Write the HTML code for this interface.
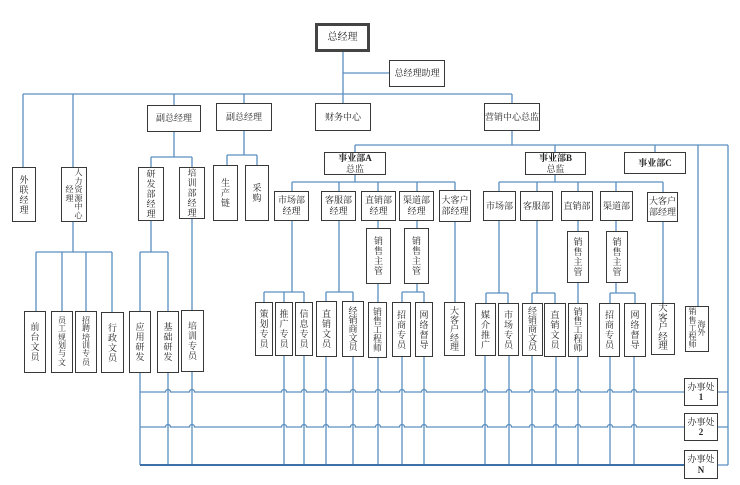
<!DOCTYPE html>
<html><head><meta charset="utf-8">
<style>
html,body{margin:0;padding:0;background:#fff;}
#c{position:relative;width:740px;height:485px;background:#fff;overflow:hidden;}
svg{position:absolute;left:0;top:0;}
.b{position:absolute;box-sizing:border-box;border:1.5px solid #383838;background:#fff;display:flex;align-items:center;justify-content:center;text-align:center;font-size:9px;line-height:11px;color:#222;font-family:"Liberation Serif","Noto Serif CJK SC",serif;white-space:nowrap;}
.v{line-height:10px;}
.v5{line-height:9px;}
.v6{line-height:8.4px;font-size:8px;}
.bd{font-weight:bold;}
.col{display:block;}
</style></head><body>
<div id="c">
<svg width="740" height="485" viewBox="0 0 740 485">
<g fill="none" stroke="#5b8fbf" stroke-width="1.3">
<path d="M343 52V94 M343 73H389 M23 94H512 M23 94V167 M73 94V167 M174 94V105 M244 94V103 M343 94V103 M512 94V103"/>
<path d="M512 131V145 M355 145H728 M355 145V152 M555 145V152 M655 145V152 M698 145V306 M728 145V465"/>
<path d="M174 132V157 M151 157H192 M151 157V167 M192 157V167"/>
<path d="M244 131V155 M227 155H257 M227 155V165 M257 155V165"/>
<path d="M73 222V252 M36 252H112 M36 252V311 M62 252V311 M86 252V311 M112 252V312"/>
<path d="M151 221V252 M140 252H168 M140 252V311 M168 252V311 M192 219V310"/>
<path d="M140 373V465 M168 373V465 M192 372V465"/>
<path d="M355 175V182 M292 182H455 M292 182V191 M339 182V191 M378 182V191 M417 182V191 M455 182V190"/>
<path d="M378 221V228 M417 221V228"/>
<path d="M292 221V292 M264 292H304 M264 292V302 M284 292V302 M304 292V302"/>
<path d="M339 221V292 M326 292H353 M326 292V301 M353 292V301"/>
<path d="M378 284V302 M417 284V292 M402 292H424 M402 292V302 M424 292V302 M455 222V302"/>
<path d="M284 356V465 M304 356V465 M326 357V465 M353 357V465 M378 358V465 M402 357V465 M424 357V465"/>
<path d="M555 175V182 M499 182H663 M499 182V191 M537 182V191 M578 182V191 M616 182V191 M663 182V192"/>
<path d="M578 221V231 M616 221V231"/>
<path d="M499 221V293 M486 293H508 M486 293V303 M508 293V303"/>
<path d="M537 221V293 M532 293H555 M532 293V303 M555 293V303"/>
<path d="M578 283V303 M616 283V293 M610 293H635 M610 293V303 M635 293V303 M663 222V303"/>
<path d="M485 356V465 M509 356V465 M532 356V465 M556 356V465 M578 357V465 M610 357V465 M634 357V465"/>
<path d="M140 392 L165.5 392 A2.5 2.5 0 0 1 170.5 392 L189.5 392 A2.5 2.5 0 0 1 194.5 392 L281.5 392 A2.5 2.5 0 0 1 286.5 392 L301.5 392 A2.5 2.5 0 0 1 306.5 392 L323.5 392 A2.5 2.5 0 0 1 328.5 392 L350.5 392 A2.5 2.5 0 0 1 355.5 392 L375.5 392 A2.5 2.5 0 0 1 380.5 392 L399.5 392 A2.5 2.5 0 0 1 404.5 392 L421.5 392 A2.5 2.5 0 0 1 426.5 392 L482.5 392 A2.5 2.5 0 0 1 487.5 392 L506.5 392 A2.5 2.5 0 0 1 511.5 392 L529.5 392 A2.5 2.5 0 0 1 534.5 392 L553.5 392 A2.5 2.5 0 0 1 558.5 392 L575.5 392 A2.5 2.5 0 0 1 580.5 392 L607.5 392 A2.5 2.5 0 0 1 612.5 392 L631.5 392 A2.5 2.5 0 0 1 636.5 392 L684 392"/>
<path d="M140 427 L165.5 427 A2.5 2.5 0 0 1 170.5 427 L189.5 427 A2.5 2.5 0 0 1 194.5 427 L281.5 427 A2.5 2.5 0 0 1 286.5 427 L301.5 427 A2.5 2.5 0 0 1 306.5 427 L323.5 427 A2.5 2.5 0 0 1 328.5 427 L350.5 427 A2.5 2.5 0 0 1 355.5 427 L375.5 427 A2.5 2.5 0 0 1 380.5 427 L399.5 427 A2.5 2.5 0 0 1 404.5 427 L421.5 427 A2.5 2.5 0 0 1 426.5 427 L482.5 427 A2.5 2.5 0 0 1 487.5 427 L506.5 427 A2.5 2.5 0 0 1 511.5 427 L529.5 427 A2.5 2.5 0 0 1 534.5 427 L553.5 427 A2.5 2.5 0 0 1 558.5 427 L575.5 427 A2.5 2.5 0 0 1 580.5 427 L607.5 427 A2.5 2.5 0 0 1 612.5 427 L631.5 427 A2.5 2.5 0 0 1 636.5 427 L684 427"/>
<path d="M718 392H728 M718 427H728 M718 465H728"/>
</g>
<path d="M140 465H684" stroke="#3d70a8" stroke-width="2" fill="none"/>
</svg>

<!-- top level -->
<div class="b" style="left:315px;top:23px;width:55px;height:29px;border:3px solid #444;font-size:10px;">总经理</div>
<div class="b" style="left:389px;top:60px;width:56px;height:27px;">总经理助理</div>
<div class="b" style="left:147px;top:105px;width:54px;height:27px;">副总经理</div>
<div class="b" style="left:216px;top:103px;width:56px;height:28px;">副总经理</div>
<div class="b" style="left:315px;top:103px;width:56px;height:28px;">财务中心</div>
<div class="b" style="left:484px;top:103px;width:56px;height:28px;">营销中心总监</div>

<!-- left branch -->
<div class="b v" style="left:12px;top:167px;width:24px;height:55px;">外<br>联<br>经<br>理</div>
<div class="b" style="left:61px;top:167px;width:26px;height:55px;font-size:8px;line-height:8.5px;"><span class="col">经<br>理</span><span class="col" style="margin-left:1px">人<br>力<br>资<br>源<br>中<br>心</span></div>
<div class="b v" style="left:138px;top:167px;width:26px;height:54px;">研<br>发<br>部<br>经<br>理</div>
<div class="b v" style="left:179px;top:167px;width:26px;height:52px;">培<br>训<br>部<br>经<br>理</div>
<div class="b v" style="left:213px;top:165px;width:25px;height:56px;">生<br>产<br>链</div>
<div class="b v" style="left:245px;top:165px;width:24px;height:56px;">采<br>购</div>

<div class="b v" style="left:24px;top:311px;width:22px;height:62px;">前<br>台<br>文<br>员</div>
<div class="b v6" style="left:51px;top:311px;width:22px;height:62px;">员<br>工<br>规<br>划<br>与<br>文</div>
<div class="b v6" style="left:75px;top:311px;width:22px;height:62px;">招<br>聘<br>培<br>训<br>专<br>员</div>
<div class="b v" style="left:101px;top:312px;width:23px;height:61px;">行<br>政<br>文<br>员</div>
<div class="b v" style="left:129px;top:311px;width:22px;height:62px;">应<br>用<br>研<br>发</div>
<div class="b v" style="left:157px;top:311px;width:22px;height:62px;">基<br>础<br>研<br>发</div>
<div class="b v" style="left:181px;top:310px;width:23px;height:62px;">培<br>训<br>专<br>员</div>

<!-- 事业部 -->
<div class="b" style="left:324px;top:152px;width:62px;height:23px;line-height:10.5px;"><span><b>事业部A</b><br>总监</span></div>
<div class="b" style="left:525px;top:152px;width:61px;height:23px;line-height:10.5px;"><span><b>事业部B</b><br>总监</span></div>
<div class="b bd" style="left:624px;top:152px;width:62px;height:22px;">事业部C</div>

<div class="b" style="left:274px;top:191px;width:35px;height:30px;"><span>市场部<br>经理</span></div>
<div class="b" style="left:321px;top:191px;width:35px;height:30px;"><span>客服部<br>经理</span></div>
<div class="b" style="left:361px;top:191px;width:35px;height:30px;"><span>直销部<br>经理</span></div>
<div class="b" style="left:399px;top:191px;width:35px;height:30px;"><span>渠道部<br>经理</span></div>
<div class="b" style="left:439px;top:190px;width:32px;height:32px;"><span>大客户<br>部经理</span></div>

<div class="b" style="left:483px;top:191px;width:33px;height:30px;">市场部</div>
<div class="b" style="left:520px;top:191px;width:33px;height:30px;">客服部</div>
<div class="b" style="left:561px;top:191px;width:32px;height:30px;">直销部</div>
<div class="b" style="left:600px;top:191px;width:33px;height:30px;">渠道部</div>
<div class="b" style="left:647px;top:192px;width:31px;height:30px;"><span>大客户<br>部经理</span></div>

<div class="b v" style="left:366px;top:228px;width:25px;height:56px;">销<br>售<br>主<br>管</div>
<div class="b v" style="left:404px;top:228px;width:25px;height:56px;">销<br>售<br>主<br>管</div>
<div class="b v" style="left:567px;top:231px;width:22px;height:52px;">销<br>售<br>主<br>管</div>
<div class="b v" style="left:606px;top:231px;width:22px;height:52px;">销<br>售<br>主<br>管</div>

<!-- A bottom row -->
<div class="b v" style="left:255px;top:302px;width:18px;height:54px;">策<br>划<br>专<br>员</div>
<div class="b v" style="left:275px;top:302px;width:18px;height:54px;">推<br>广<br>专<br>员</div>
<div class="b v" style="left:295px;top:302px;width:18px;height:54px;">信<br>息<br>专<br>员</div>
<div class="b v" style="left:316px;top:301px;width:21px;height:56px;">直<br>销<br>文<br>员</div>
<div class="b v5" style="left:342px;top:301px;width:22px;height:56px;">经<br>销<br>商<br>文<br>员</div>
<div class="b v5" style="left:368px;top:302px;width:19px;height:56px;">销<br>售<br>工<br>程<br>师</div>
<div class="b v" style="left:392px;top:302px;width:19px;height:55px;">招<br>商<br>专<br>员</div>
<div class="b v" style="left:415px;top:302px;width:18px;height:55px;">网<br>络<br>督<br>导</div>
<div class="b v5" style="left:444px;top:302px;width:21px;height:54px;">大<br>客<br>户<br>经<br>理</div>

<!-- B bottom row -->
<div class="b v" style="left:475px;top:303px;width:21px;height:53px;">媒<br>介<br>推<br>广</div>
<div class="b v" style="left:498px;top:303px;width:21px;height:53px;">市<br>场<br>专<br>员</div>
<div class="b v5" style="left:522px;top:303px;width:21px;height:53px;">经<br>销<br>商<br>文<br>员</div>
<div class="b v" style="left:544px;top:303px;width:22px;height:54px;">直<br>销<br>文<br>员</div>
<div class="b v5" style="left:568px;top:303px;width:20px;height:54px;">销<br>售<br>工<br>程<br>师</div>
<div class="b v" style="left:599px;top:303px;width:21px;height:54px;">招<br>商<br>专<br>员</div>
<div class="b v" style="left:624px;top:303px;width:22px;height:54px;">网<br>络<br>督<br>导</div>
<div class="b" style="left:651px;top:303px;width:24px;height:52px;font-size:9.5px;line-height:9.4px;">大<br>客<br>户<br>经<br>理</div>
<div class="b" style="left:685px;top:306px;width:24px;height:46px;font-size:8px;line-height:8.2px;"><span class="col">销<br>售<br>工<br>程<br>师</span><span class="col" style="margin-left:1px">海<br>外</span></div>

<!-- offices -->
<div class="b" style="left:684px;top:378px;width:34px;height:28px;line-height:10.5px;"><span>办事处<br><b>1</b></span></div>
<div class="b" style="left:684px;top:413px;width:34px;height:28px;line-height:10.5px;"><span>办事处<br><b>2</b></span></div>
<div class="b" style="left:684px;top:450px;width:34px;height:29px;line-height:10.5px;"><span>办事处<br><b>N</b></span></div>
</div>
</body></html>
